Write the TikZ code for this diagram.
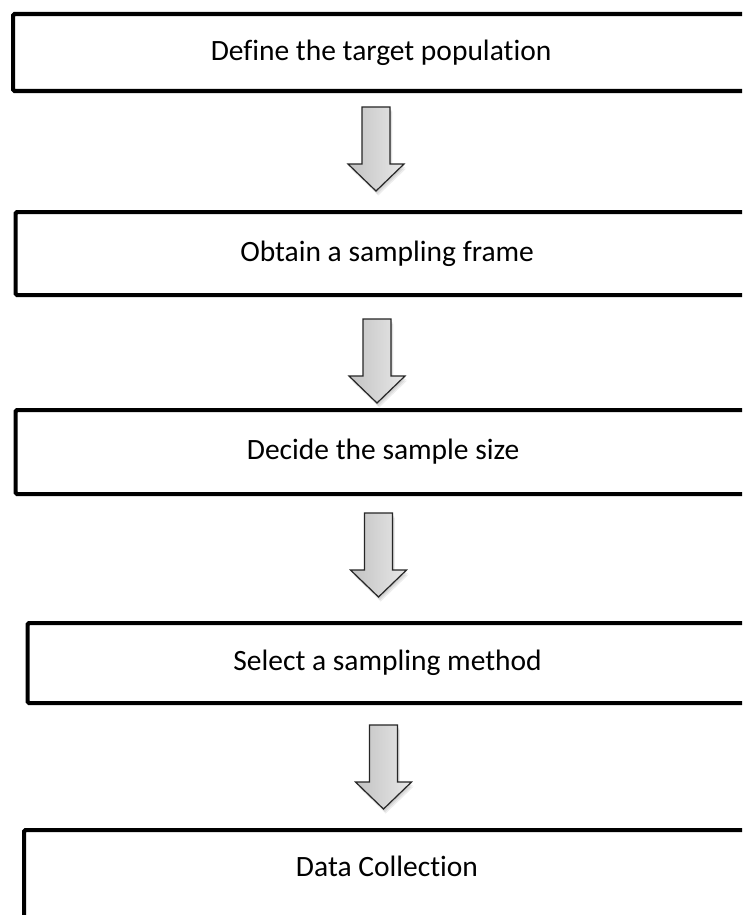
\documentclass[tikz,border=0pt]{standalone}
\usepackage{fontspec}
\setmainfont{Carlito}[Ligatures=CommonOff]
\begin{document}
\begin{tikzpicture}[x=1pt,y=-1pt,
  stepbox/.style={draw=black, line width=4.2pt, rounded corners=1.5pt,
    anchor=north west, inner sep=0pt, fill=white,
    font=\fontsize{29.5}{34}\selectfont},
  arrowbody/.style={draw=black!85, line width=1.2pt, line join=miter,
    left color=black!24, right color=black!9},
  arrowshade/.style={fill=black, opacity=0.07},
  downarrow/.pic={
    % soft shadow underneath the block arrow
    \foreach \s in {1.5,3,4.5}{
      \path[arrowshade, shift={(\s*0.5,\s)}]
        (-14,0) -- (14,0) -- (14,57) -- (28,57) -- (0,84) -- (-28,57) -- (-14,57) -- cycle;
    }
    \path[arrowbody]
      (-14,0) -- (14,0) -- (14,57) -- (28,57) -- (0,84) -- (-28,57) -- (-14,57) -- cycle;
  }]
  \path[use as bounding box] (0,0) rectangle (742,915);
  \clip (0,0) rectangle (742,915);
  \fill[white] (0,0) rectangle (742,915);

  % process steps (boxes run on past the right edge)
  \node[stepbox, minimum width=736pt, minimum height=77pt] (b1) at (11,12)
    {Define the target population};
  \node[stepbox, minimum width=743pt, minimum height=83pt] (b2) at (13.5,210)
    {Obtain a sampling frame};
  \node[stepbox, minimum width=735pt, minimum height=84pt] (b3) at (13.5,408)
    {Decide the sample size};
  \node[stepbox, minimum width=720pt, minimum height=80pt] (b4) at (25.5,621)
    {Select a sampling method};
  \node[stepbox, minimum width=730pt, minimum height=140pt] (b5) at (22,828) {};
  \node[font=\fontsize{29.5}{34}\selectfont, inner sep=0pt] (t5) at (387,866)
    {Data Collection};

  % block arrows between the steps
  \pic at (376,107) {downarrow};
  \pic at (377,319) {downarrow};
  \pic at (378.5,513) {downarrow};
  \pic at (383.5,725) {downarrow};
\end{tikzpicture}
\end{document}
